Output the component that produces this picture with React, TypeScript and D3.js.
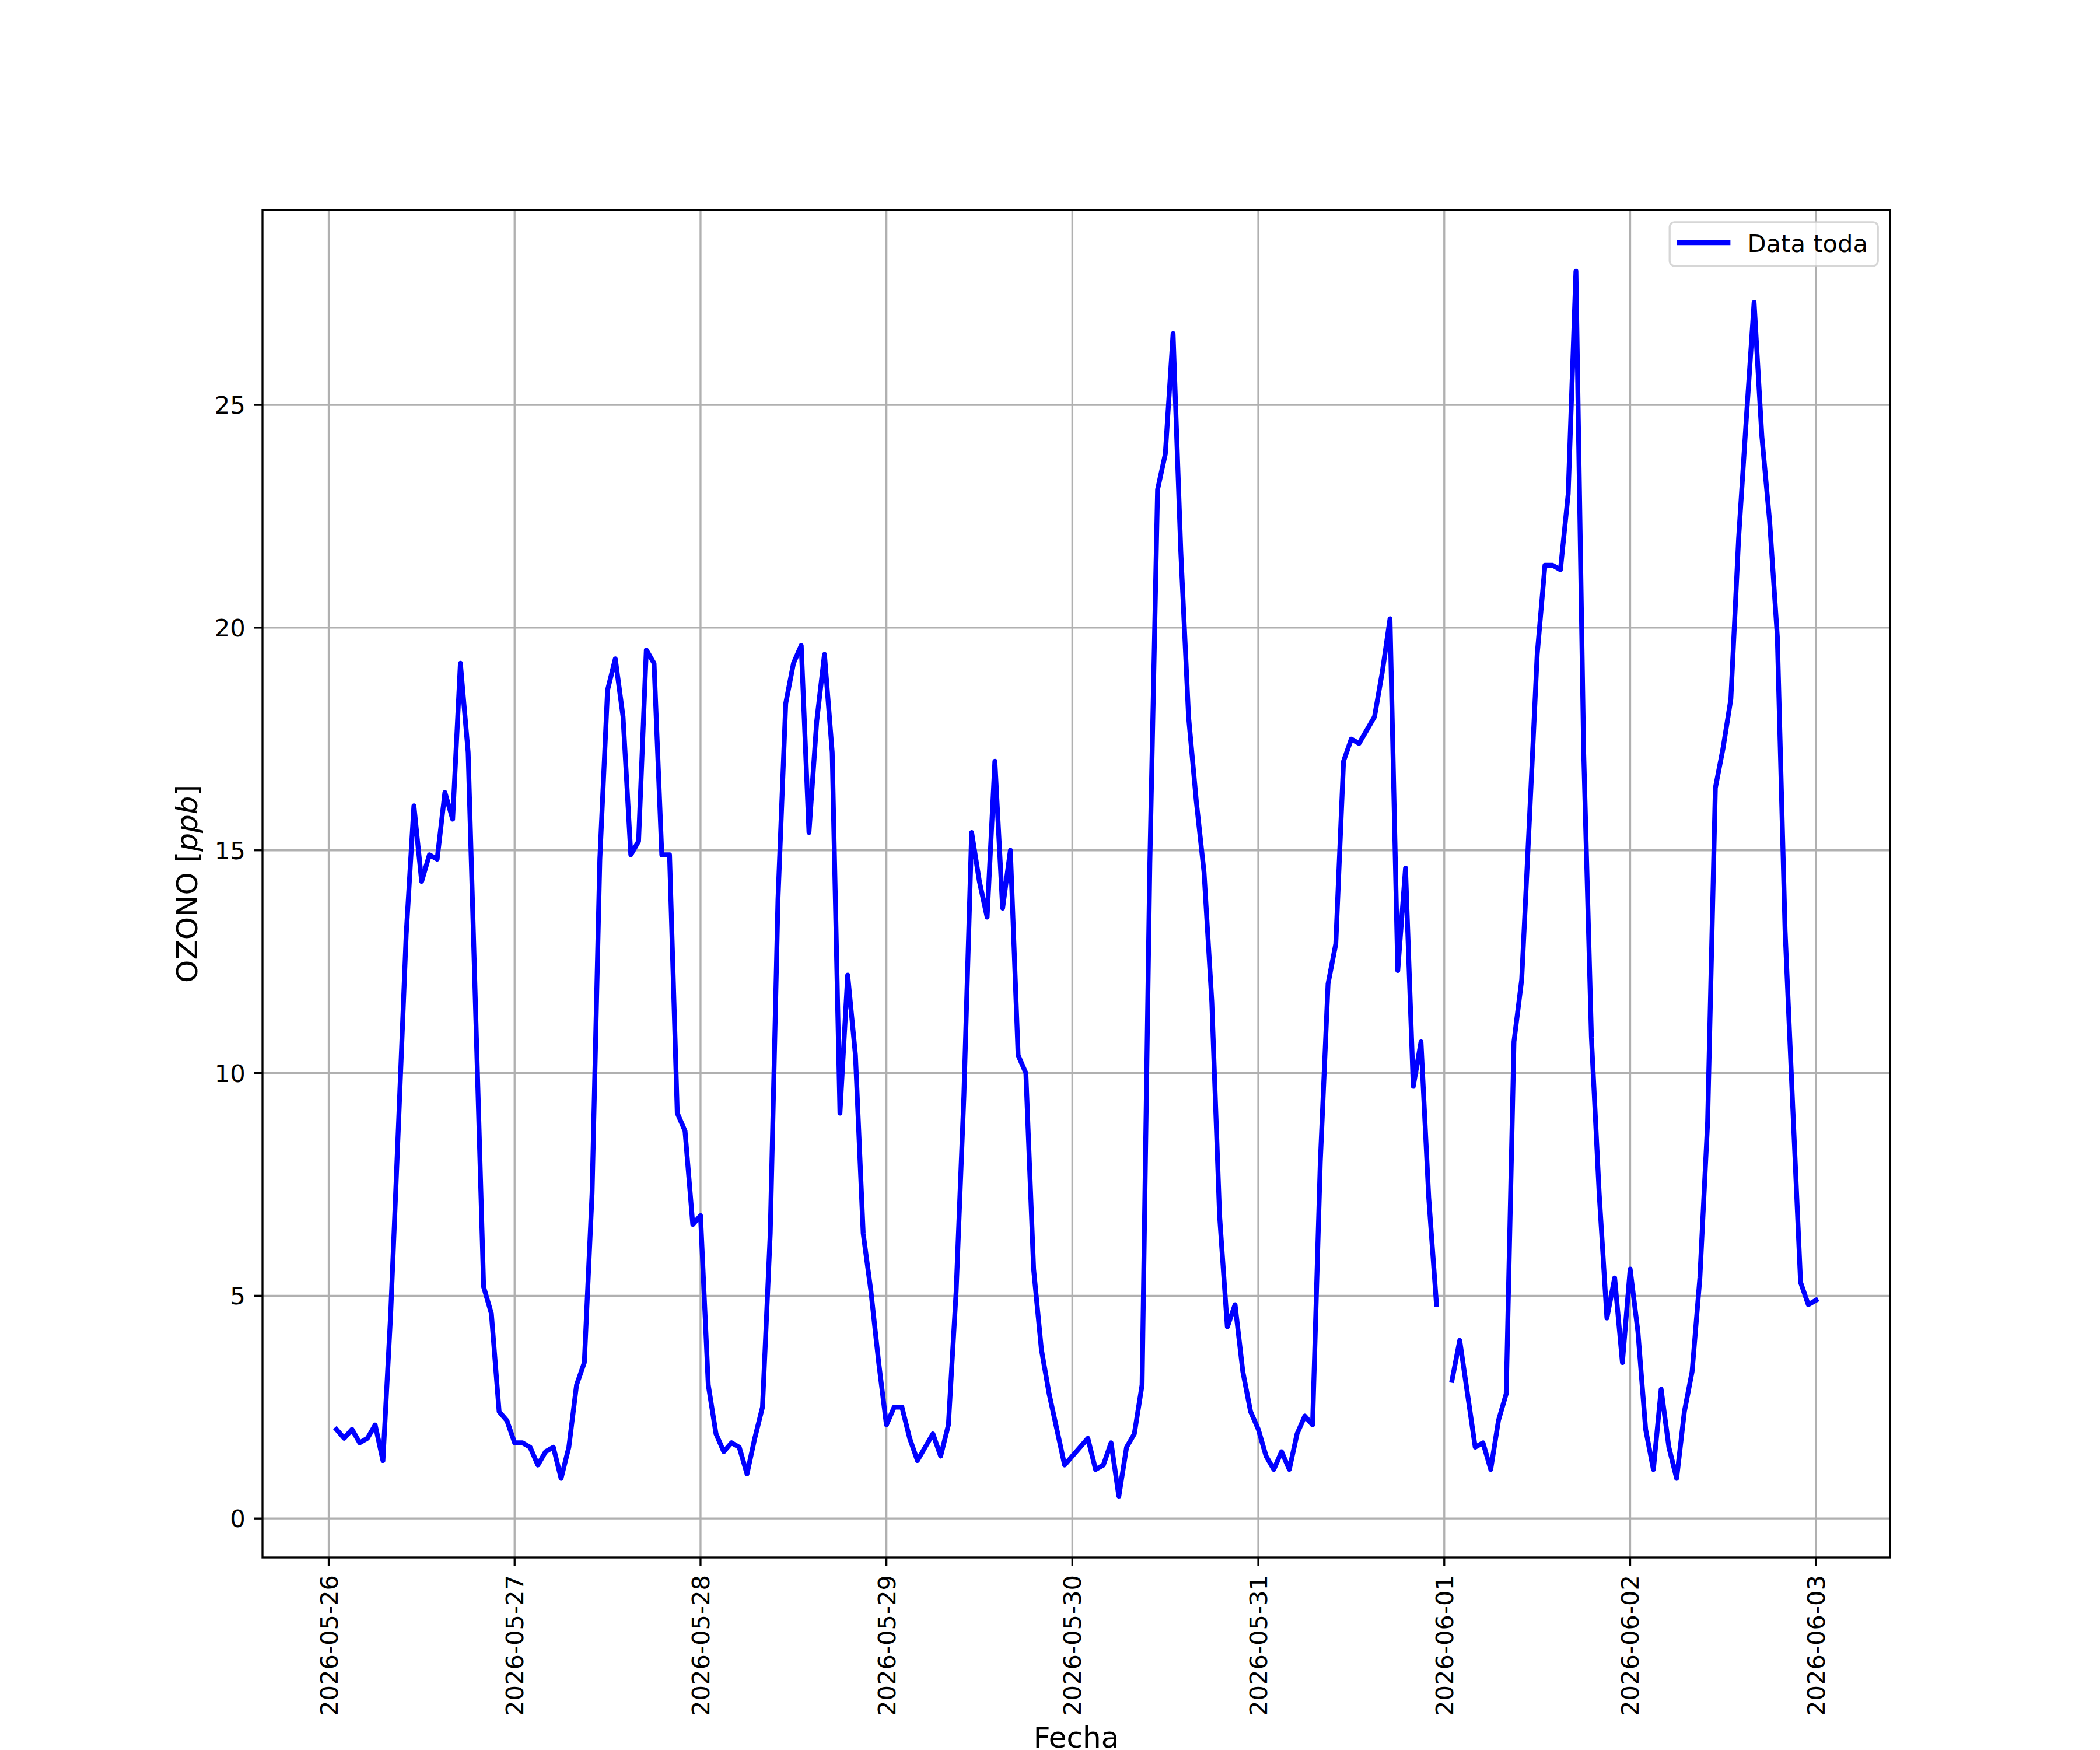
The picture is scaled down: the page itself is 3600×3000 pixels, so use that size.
import React from 'react';
import * as d3 from 'd3';

// hourly ozone readings, one array per day (ppb)
const START = Date.UTC(2026, 4, 26, 1); // first reading: 2026-05-26 01:00
const day0526 = [2.0, 1.8, 2.0, 1.7, 1.8, 2.1, 1.3, 4.6, 8.8, 13.1, 16.0, 14.3, 14.9, 14.8, 16.3, 15.7, 19.2, 17.2, 11.2, 5.2, 4.6, 2.4, 2.2];
const day0527 = [1.7, 1.7, 1.6, 1.2, 1.5, 1.6, 0.9, 1.6, 3.0, 3.5, 7.3, 14.8, 18.6, 19.3, 18.0, 14.9, 15.2, 19.5, 19.2, 14.9, 14.9, 9.1, 8.7, 6.6];
const day0528 = [6.8, 3.0, 1.9, 1.5, 1.7, 1.6, 1.0, 1.8, 2.5, 6.4, 13.9, 18.3, 19.2, 19.6, 15.4, 17.9, 19.4, 17.2, 9.1, 12.2, 10.4, 6.4, 5.1, 3.5];
const day0529 = [2.1, 2.5, 2.5, 1.8, 1.3, 1.6, 1.9, 1.4, 2.1, 5.1, 9.5, 15.4, 14.3, 13.5, 17.0, 13.7, 15.0, 10.4, 10.0, 5.6, 3.8, 2.8, 2.0, 1.2];
const day0530 = [1.4, 1.6, 1.8, 1.1, 1.2, 1.7, 0.5, 1.6, 1.9, 3.0, 14.7, 23.1, 23.9, 26.6, 21.7, 18.0, 16.1, 14.5, 11.6, 6.8, 4.3, 4.8, 3.3, 2.4];
const day0531 = [2.0, 1.4, 1.1, 1.5, 1.1, 1.9, 2.3, 2.1, 8.0, 12.0, 12.9, 17.0, 17.5, 17.4, 17.7, 18.0, 19.0, 20.2, 12.3, 14.6, 9.7, 10.7, 7.2, 4.8];
const day0601 = [NaN, 3.1, 4.0, 2.8, 1.6, 1.7, 1.1, 2.2, 2.8, 10.7, 12.1, 15.7, 19.4, 21.4, 21.4, 21.3, 23.0, 28.0, 17.2, 10.8, 7.3, 4.5, 5.4, 3.5];
const day0602 = [5.6, 4.2, 2.0, 1.1, 2.9, 1.6, 0.9, 2.4, 3.3, 5.4, 8.9, 16.4, 17.3, 18.4, 22.0, 24.7, 27.3, 24.3, 22.4, 19.8, 13.2, 9.2, 5.3, 4.8];
const day0603 = [4.9];

const yTicks = [0, 5, 10, 15, 20, 25];
const legendLabel = 'Data toda';
const xTitle = 'Fecha';

const W = 3600;
const H = 3000;
const left = 450, right = 3240, top = 360, bottom = 2670;
const fs = 41.67; // tick / legend text
const labelFs = 50; // axis titles
const lw = 3.33;
const font = '"DejaVu Sans", sans-serif';

type Pt = { t: Date; v: number };

const App: React.FC = () => {
  const values = [...day0526, ...day0527, ...day0528, ...day0529, ...day0530, ...day0531, ...day0601, ...day0602, ...day0603];
  const data: Pt[] = values.map((v, i) => ({ t: new Date(START + i * 3600e3), v }));

  const [t0, t1] = d3.extent(data, d => +d.t) as [number, number];
  const tPad = (t1 - t0) * 0.05;
  const x = d3.scaleUtc().domain([new Date(t0 - tPad), new Date(t1 + tPad)]).range([left, right]);

  const good = values.filter(v => !isNaN(v));
  const vMin = d3.min(good)!, vMax = d3.max(good)!;
  const vPad = (vMax - vMin) * 0.05;
  const y = d3.scaleLinear().domain([vMin - vPad, vMax + vPad]).range([bottom, top]);

  const xTicks = x.ticks(d3.utcDay.every(1)!);
  const fmt = d3.utcFormat('%Y-%m-%d');

  const line = d3.line<Pt>()
    .defined(d => !isNaN(d.v))
    .x(d => x(d.t))
    .y(d => y(d.v));

  const legX = right - 20.8 - 357;
  const legY = top + 20.8;

  return (
    <svg width={W} height={H} style={{ position: 'absolute', left: 0, top: 0, background: '#fff' }} fontFamily={font}>
      <rect x={0} y={0} width={W} height={H} fill="#fff" />
      <defs>
        <clipPath id="plotArea">
          <rect x={left} y={top} width={right - left} height={bottom - top} />
        </clipPath>
      </defs>

      {/* grid */}
      <g stroke="#b0b0b0" strokeWidth={lw}>
        {xTicks.map(t => (
          <line key={'gx' + +t} x1={x(t)} x2={x(t)} y1={top} y2={bottom} />
        ))}
        {yTicks.map(v => (
          <line key={'gy' + v} x1={left} x2={right} y1={y(v)} y2={y(v)} />
        ))}
      </g>

      <path
        d={line(data) || ''}
        fill="none"
        stroke="#0000ff"
        strokeWidth={8.33}
        strokeLinejoin="round"
        strokeLinecap="square"
        clipPath="url(#plotArea)"
      />

      {/* spines */}
      <rect x={left} y={top} width={right - left} height={bottom - top} fill="none" stroke="#000" strokeWidth={lw} />

      {/* x ticks */}
      {xTicks.map(t => (
        <g key={'xt' + +t}>
          <line x1={x(t)} x2={x(t)} y1={bottom} y2={bottom + 14.58} stroke="#000" strokeWidth={lw} />
          <text
            transform={`translate(${x(t)},${2700}) rotate(-90)`}
            textAnchor="end"
            dy={15}
            fontSize={fs}
            fill="#000"
          >
            {fmt(t)}
          </text>
        </g>
      ))}

      {/* y ticks */}
      {yTicks.map(v => (
        <g key={'yt' + v}>
          <line x1={left - 14.58} x2={left} y1={y(v)} y2={y(v)} stroke="#000" strokeWidth={lw} />
          <text x={left - 29.2} y={y(v)} dy={15} textAnchor="end" fontSize={fs} fill="#000">
            {v}
          </text>
        </g>
      ))}

      {/* axis labels */}
      <text x={(left + right) / 2} y={2996} textAnchor="middle" fontSize={labelFs} fill="#000">
        {xTitle}
      </text>
      <text transform={`translate(338,${(top + bottom) / 2}) rotate(-90)`} textAnchor="middle" fontSize={labelFs} fill="#000">
        OZONO [<tspan fontStyle="italic">ppb</tspan>]
      </text>

      {/* legend */}
      <g>
        <rect
          x={legX}
          y={legY}
          width={357}
          height={75}
          rx={8.3}
          ry={8.3}
          fill="rgba(255,255,255,0.8)"
          stroke="rgba(204,204,204,0.8)"
          strokeWidth={lw}
        />
        <line
          x1={legX + 16.7}
          x2={legX + 16.7 + 83.3}
          y1={416}
          y2={416}
          stroke="#0000ff"
          strokeWidth={8.33}
          strokeLinecap="square"
        />
        <text x={legX + 16.7 + 83.3 + 33.3} y={432} fontSize={fs} fill="#000">
          {legendLabel}
        </text>
      </g>
    </svg>
  );
};

export default App;
